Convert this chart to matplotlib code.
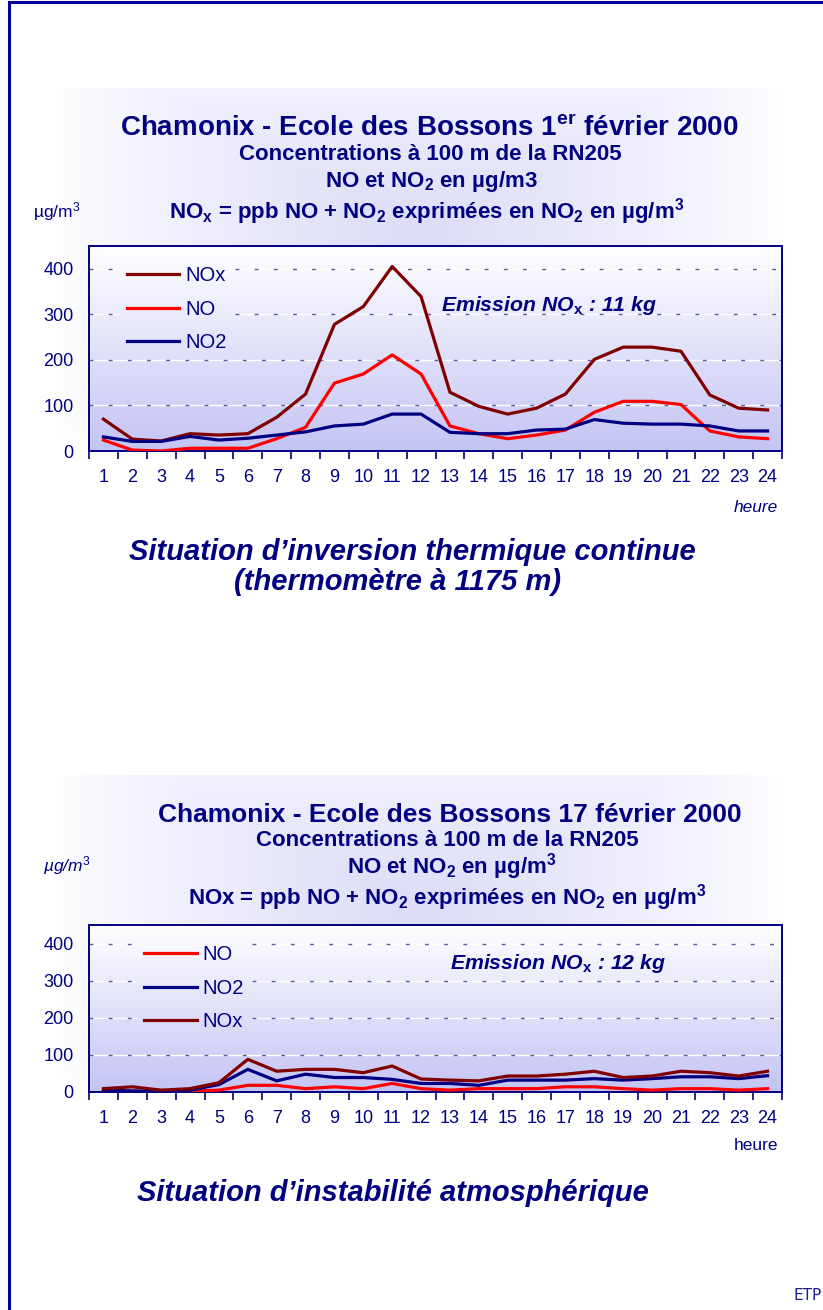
import matplotlib.pyplot as plt
import numpy as np
from matplotlib.colors import LinearSegmentedColormap

plt.rcParams['font.family'] = ['Liberation Sans', 'DejaVu Sans']
plt.rcParams['mathtext.fontset'] = 'custom'
plt.rcParams['mathtext.rm'] = 'Liberation Sans'
plt.rcParams['mathtext.it'] = 'Liberation Sans:italic'
plt.rcParams['mathtext.bf'] = 'Liberation Sans:bold'
plt.rcParams['mathtext.bfit'] = 'Liberation Sans:bold:italic'

hours = list(range(1, 25))

# 1er fevrier 2000 - inversion thermique
nox_0201 = [70, 26, 22, 38, 35, 38, 74, 125, 278, 317, 405, 339, 129, 98, 81, 94, 125, 201, 228, 228, 219, 123, 94, 90]
no_0201 = [24, 2, 0, 6, 6, 6, 27, 52, 149, 169, 211, 169, 55, 38, 27, 35, 46, 85, 109, 109, 102, 44, 31, 27]
no2_0201 = [31, 21, 21, 32, 24, 28, 35, 42, 55, 59, 81, 81, 41, 38, 38, 46, 48, 69, 61, 59, 59, 55, 44, 44]

# 17 fevrier 2000 - instabilite
no_0217 = [0, 0, 0, 2, 5, 18, 18, 9, 14, 9, 23, 9, 5, 9, 9, 9, 14, 14, 9, 5, 9, 9, 5, 9]
no2_0217 = [5, 3, 2, 5, 20, 61, 30, 48, 39, 39, 34, 23, 23, 18, 32, 32, 32, 36, 32, 36, 41, 41, 36, 44]
nox_0217 = [9, 14, 5, 9, 25, 88, 56, 61, 61, 52, 70, 35, 32, 30, 43, 43, 48, 56, 39, 43, 56, 52, 43, 56]

yticks = [0, 100, 200, 300, 400]

NAVY = '#000080'
DKRED = '#800000'
RED = '#ff0000'

W, H = 823, 1310
fig = plt.figure(figsize=(W / 100, H / 100), dpi=100)


def rect(x0, y0, x1, y1):
    # pixel box (top-left origin) -> figure fraction [l, b, w, h]
    return [x0 / W, 1 - y1 / H, (x1 - x0) / W, (y1 - y0) / H]


def ftext(x, y, s, **kw):
    kw.setdefault('color', NAVY)
    kw.setdefault('ha', 'center')
    kw.setdefault('va', 'center')
    fig.text(x / W, 1 - y / H, s, **kw)


# page frame: left and top rules only
frame = fig.add_axes([0, 0, 1, 1], zorder=-10)
frame.set_xlim(0, W)
frame.set_ylim(H, 0)
frame.axis('off')
frame.plot([9, 9, W], [H, 2, 2], color='#000099', lw=2.2, solid_joinstyle='miter')

# soft lavender glow behind each chart block
glow = LinearSegmentedColormap.from_list('glow', ['#ffffff', '#dcdcf8'])
for box in [(35, 88, 800, 535), (35, 775, 800, 1170)]:
    bg = fig.add_axes(rect(*box), zorder=-5)
    gx = np.linspace(-1, 1, 200)
    gy = np.linspace(-1, 1, 200)
    GX, GY = np.meshgrid(gx, gy)
    GY = GY + 0.35
    t = 1 - np.clip(np.maximum(np.abs(GX) * 1.05, np.abs(GY) * 1.1), 0, 1)
    bg.imshow(t ** 0.8, cmap=glow, aspect='auto', extent=[0, 1, 0, 1], vmin=0, vmax=1)
    bg.axis('off')

plot_cmap = LinearSegmentedColormap.from_list('plotbg', ['#c4c4f4', '#ffffff'])


def draw_chart(box, series, legend_anchor, emission, emission_xy):
    ax = fig.add_axes(rect(*box))
    ax.set_xlim(0.5, 24.5)
    ax.set_ylim(0, 450)
    grad = np.linspace(0, 1, 256).reshape(-1, 1)
    ax.imshow(grad, cmap=plot_cmap, aspect='auto', extent=[0.5, 24.5, 0, 450],
              origin='lower', zorder=0)
    for label, vals, col in series:
        ax.plot(hours, vals, color=col, lw=2.3, label=label, zorder=3)

    ax.set_xticks(np.arange(0.5, 25, 1))
    ax.set_xticklabels([])
    ax.set_xticks(hours, minor=True)
    ax.set_xticklabels([str(h) for h in hours], minor=True)
    ax.tick_params(axis='x', which='major', direction='out', length=6, width=1.2, color=NAVY)
    ax.tick_params(axis='x', which='minor', length=0, pad=13, labelsize=13, labelcolor=NAVY)
    ax.set_yticks(yticks)
    ax.tick_params(axis='y', length=0, pad=11, labelsize=13, labelcolor=NAVY)
    for sp in ax.spines.values():
        sp.set_color(NAVY)
        sp.set_linewidth(1.4)

    leg = ax.legend(loc='upper left', bbox_to_anchor=legend_anchor, frameon=False,
                    handlelength=2.6, handletextpad=0.3, labelspacing=0.72,
                    fontsize=14.5, borderaxespad=0)
    for t in leg.get_texts():
        t.set_color(NAVY)
    ax.text(*emission_xy, emission, transform=ax.transAxes, ha='left', va='center',
            fontsize=15.3, fontweight='bold', style='italic', color=NAVY)
    return ax, leg


def gridlines(ax, leg):
    # dashed gridlines, interrupted behind the legend box
    bb = leg.get_window_extent().transformed(ax.transData.inverted())
    for v in yticks[1:]:
        if bb.y0 + 30 <= v <= bb.y1:
            spans = [(0.5, bb.x0), (bb.x1, 24.5)]
        else:
            spans = [(0.5, 24.5)]
        for a, b in spans:
            ax.plot([a, b], [v, v], color='white', lw=1.0, zorder=1)
            ax.plot([a, b], [v, v], color='#5a5aa0', lw=1.0, dashes=(2.8, 11), zorder=1.5)


# ---- 1er fevrier 2000 ----
ftext(429, 128, r'Chamonix - Ecole des Bossons $\mathbf{1}^\mathbf{er}$ février 2000',
      fontsize=20, fontweight='bold')
ftext(430, 155, 'Concentrations à 100 m de la RN205', fontsize=16, fontweight='bold')
ftext(431, 181, r'NO et NO$_\mathbf{2}$ en µg/m3', fontsize=16, fontweight='bold')
ftext(427, 212, r'NO$_\mathbf{x}$ = ppb NO + NO$_\mathbf{2}$ exprimées en NO$_\mathbf{2}$ en µg/m$^\mathbf{3}$',
      fontsize=16, fontweight='bold')
ftext(57, 212, r'µg/m$^3$', fontsize=12.5)

ax1, leg1 = draw_chart((89, 246, 782, 451),
                       [('NOx', nox_0201, DKRED), ('NO', no_0201, RED), ('NO2', no2_0201, NAVY)],
                       (0.043, 0.94), r'Emission NO$_\mathbf{x}$ : 11 kg', (0.508, 0.712))
ftext(778, 508, 'heure', fontsize=12.5, style='italic', ha='right')
ftext(412, 552, 'Situation d\u2019inversion thermique continue', fontsize=21,
      fontweight='bold', style='italic')
ftext(398, 582, '(thermomètre à 1175 m)', fontsize=21, fontweight='bold', style='italic')

# ---- 17 fevrier 2000 ----
ftext(450, 815, 'Chamonix - Ecole des Bossons 17 février 2000', fontsize=19, fontweight='bold')
ftext(447, 840, 'Concentrations à 100 m de la RN205', fontsize=16, fontweight='bold')
ftext(452, 867, r'NO et NO$_\mathbf{2}$ en µg/m$^\mathbf{3}$', fontsize=16, fontweight='bold')
ftext(447, 898, r'NOx = ppb NO + NO$_\mathbf{2}$ exprimées en NO$_\mathbf{2}$ en µg/m$^\mathbf{3}$',
      fontsize=16, fontweight='bold')
ftext(67, 866, r'µg/m$^{\mathit{3}}$', fontsize=12.5, style='italic')

ax2, leg2 = draw_chart((89, 925, 782, 1092),
                       [('NO', no_0217, RED), ('NO2', no2_0217, NAVY), ('NOx', nox_0217, DKRED)],
                       (0.068, 0.928), r'Emission NO$_\mathbf{x}$ : 12 kg', (0.521, 0.772))
ftext(778, 1145, 'heure', fontsize=12.5, ha='right')
ftext(393, 1193, 'Situation d\u2019instabilité atmosphérique', fontsize=21,
      fontweight='bold', style='italic')

ftext(808, 1296, 'ETP', fontsize=11, family='DejaVu Sans', color='#1a1a99')

fig.canvas.draw()
gridlines(ax1, leg1)
gridlines(ax2, leg2)

fig.savefig('out.png', dpi=100)
